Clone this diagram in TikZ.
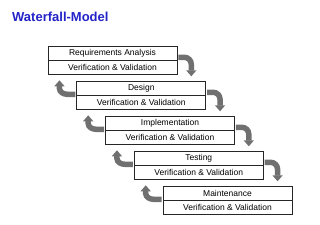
\documentclass[tikz,border=0pt]{standalone}
\usepackage{fontspec}
\setmainfont{Liberation Sans}
\usepackage{tikz}
\usetikzlibrary{arrows.meta,calc}
\definecolor{titleblue}{RGB}{35,35,200}
\definecolor{flowgrey}{RGB}{112,112,112}

\begin{document}
\begin{tikzpicture}[x=1pt,y=1pt,
    phase/.style={rectangle,draw=black!85,line width=0.6pt,minimum width=129pt,minimum height=14pt,inner sep=0pt,font=\fontsize{8.5}{9}\selectfont},
    flow/.style={flowgrey,line width=5.5pt,-{Triangle[width=10pt,length=6pt]}}]
        \useasboundingbox (0,0) rectangle (320,-224);
        \node[font=\bfseries\fontsize{13}{15}\selectfont,text=titleblue,anchor=west,inner sep=0pt] (title) at (12,-17) {Waterfall-Model};
        \foreach \i/\name/\txt in {0/req/Requirements Analysis, 1/des/Design, 2/imp/Implementation, 3/tst/Testing, 4/mnt/Maintenance} {
          \node[phase] (\name) at (112.5+28.75*\i,-53-35*\i) {\txt};
          \node[phase] (\name-vv) at (112.5+28.75*\i,-67-35*\i) {Verification \& Validation};
        }
        % down to the next phase
        \foreach \a in {req,des,imp,tst}
          \draw[flow] ($(\a.south east)+(1,3)$) -- ++(6,0) to[out=0,in=90] ++(7,-7) -- ++(0,-12);
        % back up to the previous phase
        \foreach \b in {des,imp,tst,mnt}
          \draw[flow] ($(\b.south west)+(-1,1)$) -- ++(-8,0) to[out=180,in=-90] ++(-8,6) -- ++(0,8);
      \end{tikzpicture}
\end{document}
